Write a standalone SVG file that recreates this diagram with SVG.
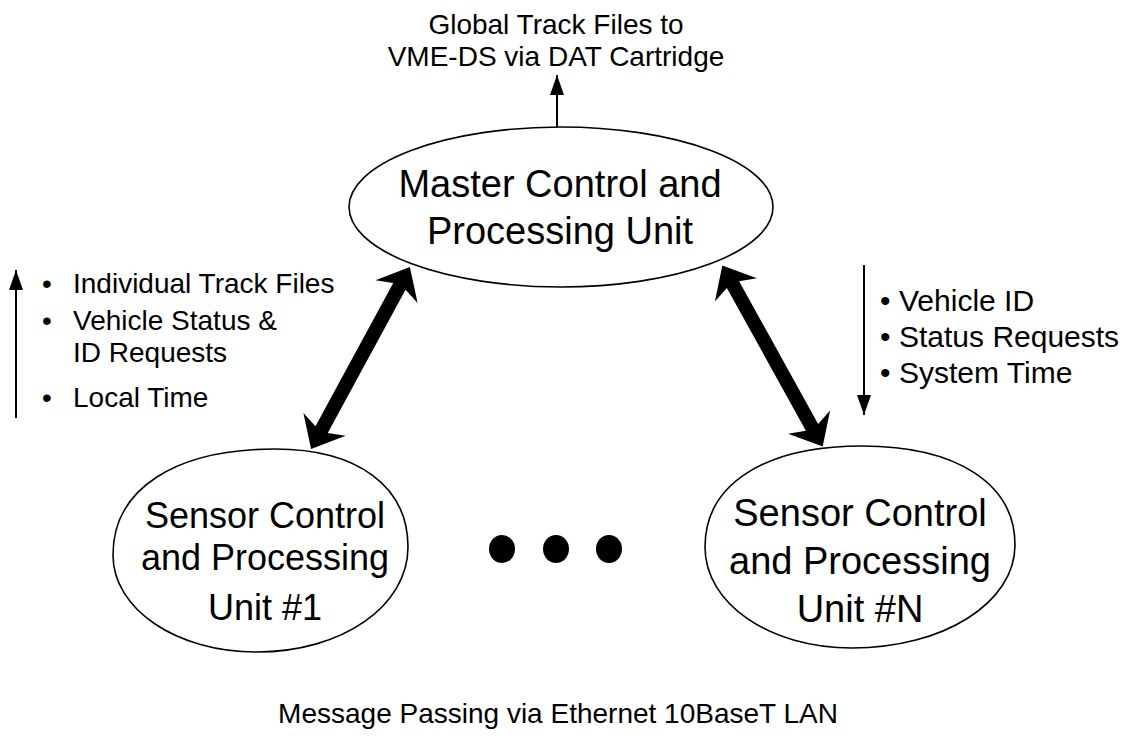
<svg xmlns="http://www.w3.org/2000/svg" width="1130" height="737" viewBox="0 0 1130 737">
  <style>
    text { font-family: "Liberation Sans", Arial, Helvetica, sans-serif; fill: #000; }
    .node { fill: #fff; stroke: #000; stroke-width: 1.6; }
    .thin { stroke: #000; stroke-width: 2; fill: none; marker-end: url(#head); }
    .thick { fill: #000; stroke: none; }
    .lbl { font-size: 28px; }
    .mid { text-anchor: middle; }
  </style>
  <defs>
    <marker id="head" viewBox="0 0 20 14" refX="20" refY="7" markerWidth="20" markerHeight="14" markerUnits="userSpaceOnUse" orient="auto">
      <path d="M0,0 L20,7 L0,14 Z" fill="#000"/>
    </marker>
    <path id="dbl" d="M103.5,0 L75.5,-24 L81.5,-7 L-81.5,-7 L-75.5,-24 L-103.5,0 L-75.5,24 L-81.5,7 L81.5,7 L75.5,24 Z"/>
  </defs>
  <rect width="1130" height="737" fill="#fff"/>

  <g id="connectors">
    <line class="thin" x1="557" y1="127" x2="557" y2="75"/>
    <line class="thin" x1="16" y1="418" x2="16" y2="270"/>
    <line class="thin" x1="864" y1="265" x2="864" y2="415"/>
    <use href="#dbl" class="thick" transform="translate(360.5,358) rotate(-61.5)"/>
    <use href="#dbl" class="thick" transform="translate(772.5,356) rotate(61)"/>
  </g>

  <g id="master">
    <ellipse class="node" cx="561" cy="207" rx="212" ry="80"/>
    <text class="mid" x="560" y="197" font-size="38">Master Control and</text>
    <text class="mid" x="560" y="244" font-size="38">Processing Unit</text>
  </g>

  <g id="sensor1">
    <path class="node" d="M275,449 C357,449 408,486 408,547 C408,606 342,652 257,652 C176,652 113,609 113,555 C113,489 175,449 275,449 Z"/>
    <text class="mid" x="265" y="528" font-size="36">Sensor Control</text>
    <text class="mid" x="265" y="570" font-size="36">and Processing</text>
    <text class="mid" x="265" y="620" font-size="36">Unit #1</text>
  </g>

  <g id="sensorN">
    <path class="node" d="M862,446 C957,446 1015,484 1015,545 C1015,603 943,648 852,648 C770,648 705,604 705,547 C705,484 765,446 862,446 Z"/>
    <text class="mid" x="860" y="526" font-size="38">Sensor Control</text>
    <text class="mid" x="860" y="574" font-size="38">and Processing</text>
    <text class="mid" x="860" y="622" font-size="38">Unit #N</text>
  </g>

  <g id="ellipsis">
    <ellipse cx="502" cy="549" rx="13" ry="14" fill="#000"/>
    <ellipse cx="556" cy="549" rx="13" ry="14" fill="#000"/>
    <ellipse cx="609" cy="549" rx="13" ry="14" fill="#000"/>
  </g>

  <g id="top-label" class="lbl">
    <text class="mid" x="556" y="34">Global Track Files to</text>
    <text class="mid" x="556" y="66">VME-DS via DAT Cartridge</text>
  </g>

  <g id="up-list" class="lbl">
    <text x="42" y="293">•</text>
    <text x="73" y="293">Individual Track Files</text>
    <text x="42" y="330">•</text>
    <text x="73" y="330">Vehicle Status &amp;</text>
    <text x="73" y="362">ID Requests</text>
    <text x="42" y="407">•</text>
    <text x="73" y="407">Local Time</text>
  </g>

  <g id="down-list" style="font-size:30px">
    <text x="880" y="311">•</text>
    <text x="899" y="311">Vehicle ID</text>
    <text x="880" y="347">•</text>
    <text x="899" y="347">Status Requests</text>
    <text x="880" y="383">•</text>
    <text x="899" y="383">System Time</text>
  </g>

  <g id="caption" class="lbl">
    <text class="mid" x="558" y="723">Message Passing via Ethernet 10BaseT LAN</text>
  </g>
</svg>
